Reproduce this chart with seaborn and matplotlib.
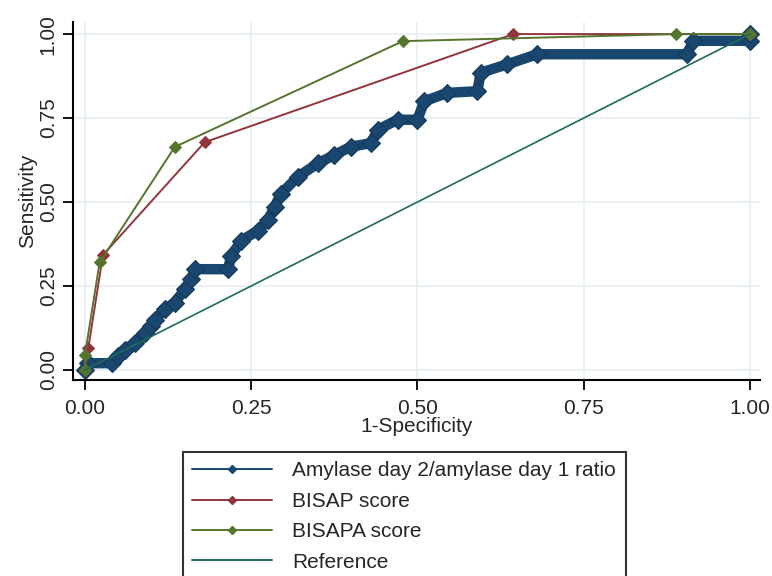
import pandas as pd
import seaborn as sns
import matplotlib.pyplot as plt
from matplotlib.lines import Line2D

# ROC points
amy_fpr = [0.0, 0.005, 0.04, 0.05, 0.06, 0.075, 0.09, 0.10, 0.105, 0.12, 0.135, 0.15,
           0.16, 0.165, 0.215, 0.22, 0.235, 0.26, 0.275, 0.285, 0.295, 0.32, 0.35,
           0.375, 0.40, 0.43, 0.44, 0.47, 0.50, 0.51, 0.545, 0.59, 0.595, 0.635,
           0.68, 0.905, 0.915, 1.0, 1.0]
amy_tpr = [0.0, 0.02, 0.02, 0.04, 0.06, 0.08, 0.11, 0.13, 0.15, 0.18, 0.20, 0.24,
           0.27, 0.30, 0.30, 0.34, 0.385, 0.415, 0.445, 0.485, 0.525, 0.575, 0.615,
           0.64, 0.665, 0.675, 0.715, 0.745, 0.745, 0.80, 0.825, 0.83, 0.885, 0.91,
           0.94, 0.94, 0.98, 0.98, 1.0]

bisap_fpr = [0.0, 0.005, 0.027, 0.18, 0.644, 1.0]
bisap_tpr = [0.0, 0.065, 0.342, 0.678, 1.0, 1.0]

bisapa_fpr = [0.0, 0.0, 0.022, 0.135, 0.478, 0.889, 1.0]
bisapa_tpr = [0.0, 0.045, 0.32, 0.664, 0.979, 1.0, 1.0]

ref_fpr = [0.0, 1.0]
ref_tpr = [0.0, 1.0]

labels = ["Amylase day 2/amylase day 1 ratio", "BISAP score", "BISAPA score", "Reference"]
colors = ["#1a476f", "#90353b", "#55752f", "#1e6b5a"]
ticks = [0.0, 0.25, 0.5, 0.75, 1.0]
tick_labels = ["0.00", "0.25", "0.50", "0.75", "1.00"]

sns.set_style("white")
plt.rcParams["font.family"] = ["Liberation Sans", "DejaVu Sans"]

fig = plt.figure(figsize=(7.72, 5.76), dpi=100)
ax = fig.add_axes([73 / 772, 1 - 380 / 576, (760 - 73) / 772, (380 - 22) / 576])

df_amy = pd.DataFrame({"x": amy_fpr, "y": amy_tpr})
df_bisap = pd.DataFrame({"x": bisap_fpr, "y": bisap_tpr})
df_bisapa = pd.DataFrame({"x": bisapa_fpr, "y": bisapa_tpr})
df_ref = pd.DataFrame({"x": ref_fpr, "y": ref_tpr})

# thick navy band like the Stata output
sns.lineplot(data=df_amy, x="x", y="y", sort=False, estimator=None, ax=ax,
             color=colors[0], lw=7.5, marker="D", ms=9, mec="#14395a", mew=0.8,
             solid_joinstyle="round", zorder=2)
sns.lineplot(data=df_bisap, x="x", y="y", sort=False, estimator=None, ax=ax,
             color=colors[1], lw=1.4, marker="D", ms=6.5, mec=colors[1], zorder=3)
sns.lineplot(data=df_bisapa, x="x", y="y", sort=False, estimator=None, ax=ax,
             color=colors[2], lw=1.4, marker="D", ms=6.5, mec=colors[2], zorder=4)
sns.lineplot(data=df_ref, x="x", y="y", sort=False, estimator=None, ax=ax,
             color=colors[3], lw=1.2, zorder=5)

ax.set_xlim(-0.018, 1.015)
ax.set_ylim(-0.030, 1.036)
ax.set_xticks(ticks)
ax.set_xticklabels(tick_labels)
ax.set_yticks(ticks)
ax.set_yticklabels(tick_labels, rotation=90, va="center")
ax.grid(True, color="#e6eff3", lw=1.2)
ax.set_axisbelow(True)

for s in ["top", "right"]:
    ax.spines[s].set_visible(False)
for s in ["left", "bottom"]:
    ax.spines[s].set_color("black")
    ax.spines[s].set_linewidth(1.5)

ax.tick_params(axis="both", which="major", direction="out", length=7, width=1.3,
               color="black", labelsize=15, left=True, bottom=True)
ax.tick_params(axis="x", pad=7)
ax.tick_params(axis="y", pad=4)
ax.set_xlabel("1-Specificity", fontsize=15, labelpad=-1)
ax.set_ylabel("Sensitivity", fontsize=15, labelpad=1)

handles = [Line2D([0], [0], color=c, lw=1.4, marker="D", ms=4.5) for c in colors[:3]]
handles.append(Line2D([0], [0], color=colors[3], lw=1.4))
leg = fig.legend(handles, labels, loc="upper left", bbox_to_anchor=(183 / 772, 1 - 452 / 576),
                 frameon=True, fancybox=False, edgecolor="black", fontsize=15,
                 handlelength=3.8, handletextpad=1.0, labelspacing=0.55, borderpad=0.45,
                 borderaxespad=0)
leg.get_frame().set_linewidth(1.5)

fig.savefig("out.png", dpi=100)
plt.close()
